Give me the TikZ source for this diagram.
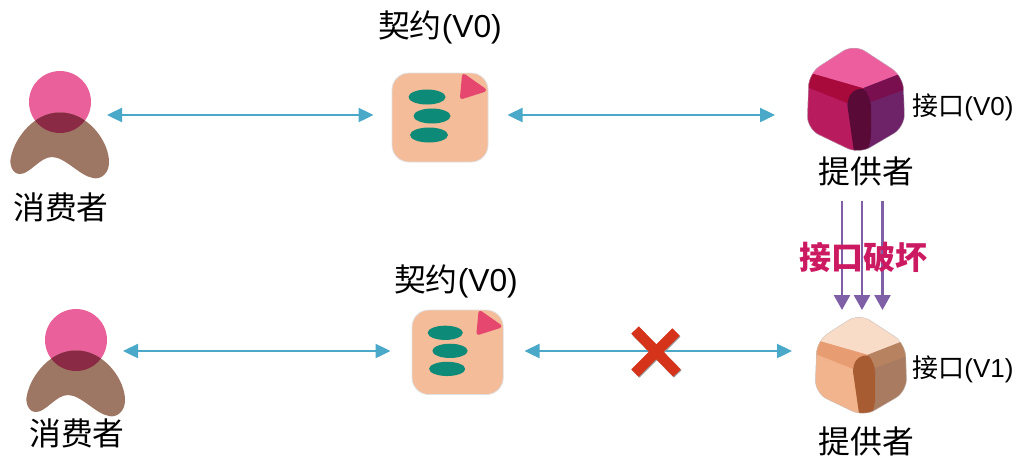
\documentclass[tikz,border=0pt]{standalone}
\usepackage{fontspec}
\setmainfont{Liberation Sans}
\newfontfamily\cjk{Noto Sans CJK SC}
\usetikzlibrary{arrows.meta}
\definecolor{linkblue}{HTML}{4AA8C8}
\definecolor{breakpurple}{HTML}{7F5FA6}
\definecolor{breakred}{HTML}{CC1A62}
\definecolor{crossred}{HTML}{D5341A}
\definecolor{headpink}{HTML}{E9609B}
\definecolor{bodybrown}{HTML}{9E7764}
\definecolor{overlapdark}{HTML}{8A2A45}
\definecolor{paper}{HTML}{F4BC98}
\definecolor{cornerred}{HTML}{E5476F}
\definecolor{pillgreen}{HTML}{0E8A78}
\definecolor{cubeAtop}{HTML}{EC5E9E}
\definecolor{cubeAleft}{HTML}{B81C5E}
\definecolor{cubeAband}{HTML}{A90A3C}
\definecolor{cubeAcore}{HTML}{5A0A36}
\definecolor{cubeArband}{HTML}{7A0F50}
\definecolor{cubeAright}{HTML}{6E2368}
\definecolor{cubeBtop}{HTML}{F9DCC8}
\definecolor{cubeBleft}{HTML}{F2B48C}
\definecolor{cubeBband}{HTML}{E89C72}
\definecolor{cubeBcore}{HTML}{A85C32}
\definecolor{cubeBrband}{HTML}{B68260}
\definecolor{cubeBright}{HTML}{A97C62}
\tikzset{
  anchorbox/.style={inner sep=0pt,outer sep=0pt,minimum height=10pt},
  link/.style={draw=linkblue,line width=2.4pt,{Triangle[length=15pt,width=14pt]}-{Triangle[length=15pt,width=14pt]}},
  breakarrow/.style={draw=breakpurple,line width=2.6pt,-{Triangle[length=15pt,width=16pt]}},
  bigcn/.style={inner sep=0pt,font=\fontsize{31.8}{32}\selectfont,text=black},
  smallcn/.style={inner sep=0pt,font=\fontsize{26}{26}\selectfont,text=black},
  breaklabel/.style={inner sep=0pt,font=\fontsize{32}{32}\selectfont\bfseries,text=breakred},
  crossbar/.style={line width=10.5pt,draw=crossred},
  crossshade/.style={line width=10.5pt,draw=gray!80},
}
% person icon: #1,#2 = centre of the head
\newcommand{\personicon}[2]{%
  \begin{scope}[shift={(#1,#2)}]
    \fill[headpink] (0,0) circle[radius=31pt];
    \def\bodypath{(0,10.5) .. controls (25,10) and (47,35) .. (49,58)
      .. controls (50,72) and (40,78) .. (33,76)
      .. controls (20,74) and (5,55) .. (-8,55)
      .. controls (-20,55) and (-30,72) .. (-40,72)
      .. controls (-48,72) and (-51,62) .. (-49,55)
      .. controls (-45,35) and (-25,10) .. (0,10.5) -- cycle}
    \fill[bodybrown] \bodypath;
    \begin{scope}
      \clip (0,0) circle[radius=31pt];
      \fill[overlapdark] \bodypath;
    \end{scope}
  \end{scope}}
% contract icon: #1,#2 = top left, #3 = size
\newcommand{\contracticon}[3]{%
  \begin{scope}[shift={(#1,#2)},scale=#3]
    \fill[paper,draw=gray!25,line width=0.8pt,rounded corners=17pt] (0,0) rectangle (96,89);
    \fill[cornerred,draw=cornerred,line width=4pt,line join=round] (72,3) -- (92,17) -- (70,24) -- cycle;
    \fill[pillgreen] (35,24) circle[x radius=18.5pt,y radius=7.5pt];
    \fill[pillgreen] (40,43) circle[x radius=18.5pt,y radius=7.5pt];
    \fill[pillgreen] (37,62) circle[x radius=19pt,y radius=7.5pt];
  \end{scope}}
% cube icon: #1,#2 centre, #3 scale, #4 = colour prefix
\newcommand{\cubeicon}[4]{%
  \begin{scope}[shift={(#1,#2)},scale=#3]
    \def\cubeoutline{[rounded corners=13pt] (-3,-55) -- (46,-23) -- (48,28) -- (2,55) -- (-50,30) -- (-48,-26) -- cycle}
    \begin{scope}
      \clip \cubeoutline;
      \fill[#4right] (-60,-60) rectangle (60,60);
      \fill[#4left] (-60,-40) -- (7,-11) -- (-10,4) -- (0,60) -- (-60,60) -- cycle;
      \fill[#4band] (-60,-30) -- (7,-11) -- (-10,4) -- (-60,-16) -- cycle;
      \fill[#4rband] (7,-11) -- (60,-32) -- (60,-14) -- (14,3) -- cycle;
      \fill[#4core,rounded corners=5pt] (7,-12) -- (14,3) -- (14,40) -- (8,60) -- (-2,60) -- (-10,4) -- (-6,-7) -- cycle;
      \fill[#4top] (-3,-60) -- (60,-32) -- (6,-11) -- (-60,-30) -- cycle;
    \end{scope}
    \draw[gray!40,line width=0.7pt,opacity=0.5] \cubeoutline;
  \end{scope}}
\newcommand{\contracttext}[1]{{\cjk 契约}(V#1)}
\newcommand{\ifacetext}[1]{{\cjk 接口}(V#1)}
\begin{document}
\begin{tikzpicture}[x=1pt,y=-1pt]
\useasboundingbox (0,0) rectangle (1017,456);
% icons, top row
\personicon{60}{102}
\contracticon{392}{73}{1}
\cubeicon{857}{99}{1}{cubeA}
% icons, bottom row
\personicon{76}{340}
\contracticon{412}{310}{0.95}
\cubeicon{862}{365}{0.94}{cubeB}
% connector ends
\node[anchorbox,minimum width=94pt] (consumerA) at (60,115) {};
\node[anchorbox,minimum width=134pt] (contractA) at (440.5,115) {};
\node[anchorbox,minimum width=166pt] (providerA) at (858,115) {};
\node[anchorbox,minimum width=94pt] (consumerB) at (76,351) {};
\node[anchorbox,minimum width=134pt] (contractB) at (457.5,351) {};
\node[anchorbox,minimum width=136pt] (providerB) at (860,351) {};
\draw[link] (consumerA.east) -- (contractA.west);
\draw[link] (contractA.east) -- (providerA.west);
\draw[link] (consumerB.east) -- (contractB.west);
\draw[link] (contractB.east) -- (providerB.west);
% breaking arrows
\coordinate (breakA1) at (842,201); \coordinate (breakB1) at (842,310);
\coordinate (breakA2) at (862,201); \coordinate (breakB2) at (862,310);
\coordinate (breakA3) at (882.5,201); \coordinate (breakB3) at (882.5,310);
\draw[breakarrow] (breakA1) -- (breakB1);
\draw[breakarrow] (breakA2) -- (breakB2);
\draw[breakarrow] (breakA3) -- (breakB3);
% cross
\draw[crossshade] (676.7,333) -- (635.7,374);
\draw[crossshade] (635.7,331) -- (677.7,374);
\draw[crossbar] (676,332) -- (635,373);
\draw[crossbar] (635,330) -- (677,373);
% labels
\node[bigcn] (labelContractA) at (440,27) {\contracttext{0}};
\node[bigcn] (labelContractB) at (456,281) {\contracttext{0}};
\node[bigcn] (labelConsumerA) at (61,207) {\cjk 消费者};
\node[bigcn] (labelConsumerB) at (77,433) {\cjk 消费者};
\node[bigcn] (labelProviderA) at (866.5,171) {\cjk 提供者};
\node[bigcn] (labelProviderB) at (866.5,441) {\cjk 提供者};
\node[smallcn] (labelIfaceA) at (963,107.5) {\ifacetext{0}};
\node[smallcn] (labelIfaceB) at (963,369.5) {\ifacetext{1}};
\node[breaklabel] (labelBreak) at (863.5,257) {\cjk 接口破坏};
\end{tikzpicture}
\end{document}
